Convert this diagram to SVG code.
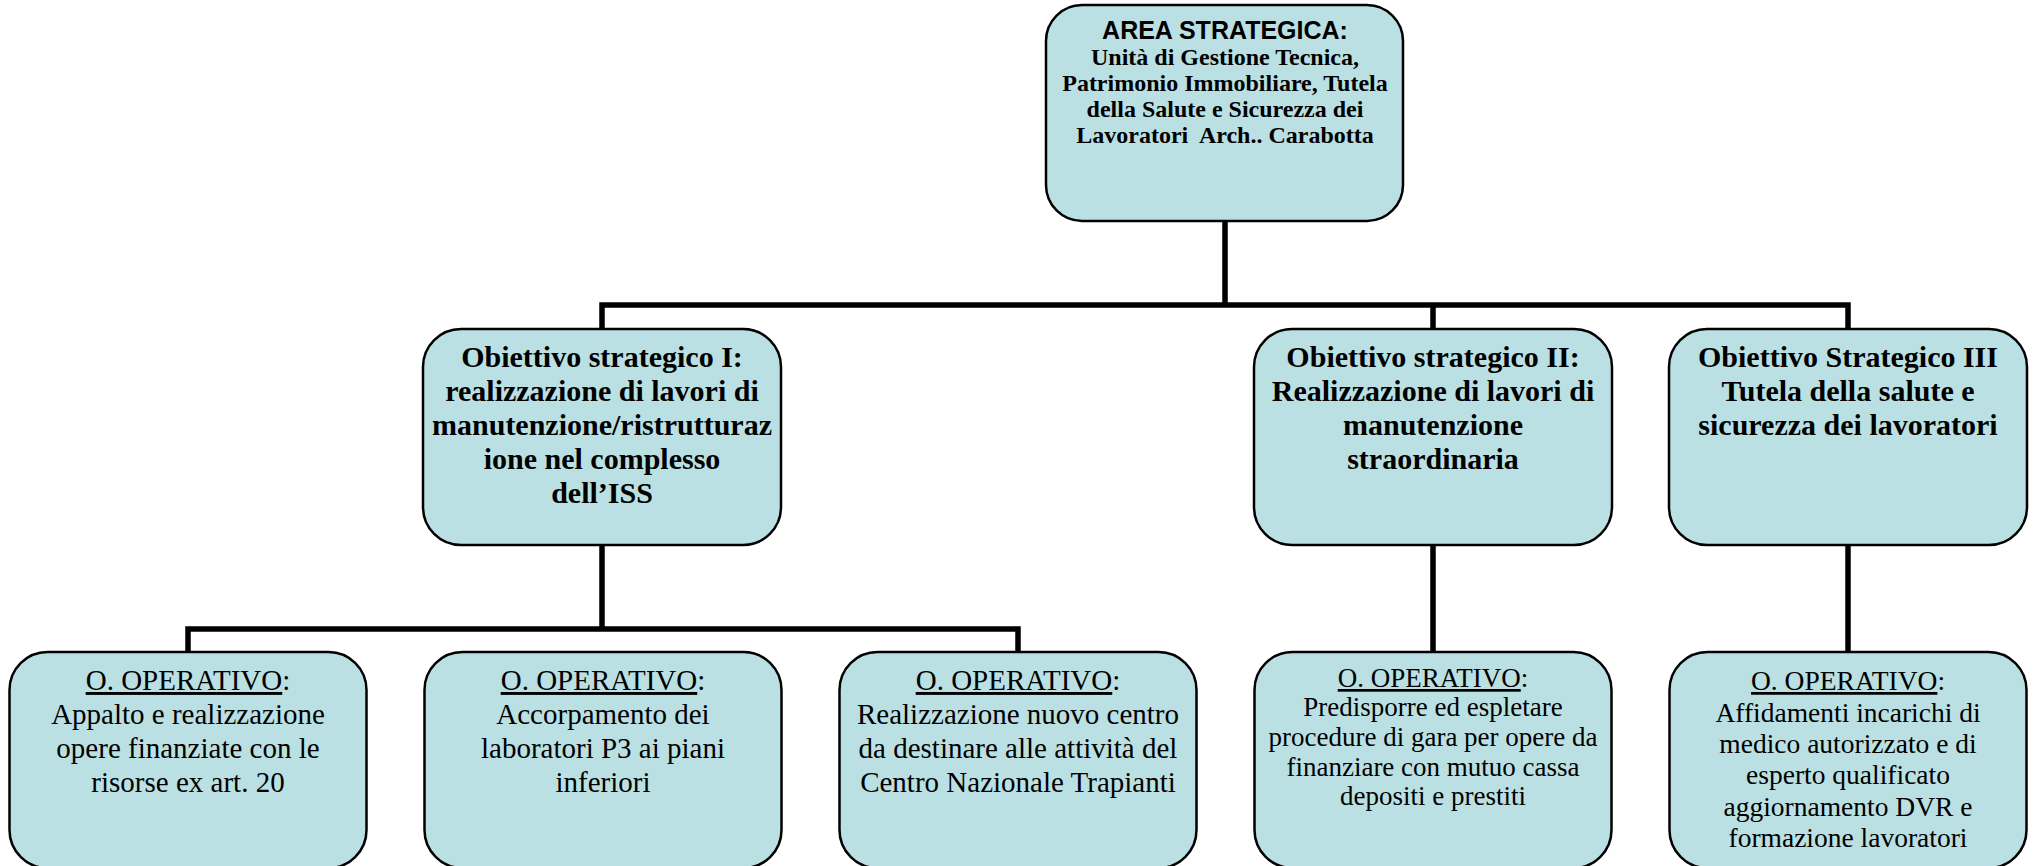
<svg xmlns="http://www.w3.org/2000/svg" width="2033" height="866" viewBox="0 0 2033 866">
<style>
.box{fill:#BBE0E3;stroke:#000;stroke-width:2.5}
.conn{stroke:#000;stroke-width:5.5;fill:none;stroke-linecap:square}
.t{font-family:"Liberation Serif","Times New Roman",serif;fill:#000;text-anchor:middle}
.b{font-weight:bold}
.a{font-family:"Liberation Sans",Arial,sans-serif;font-weight:bold;fill:#000;text-anchor:middle}
.u{text-decoration:underline}
</style>
<rect width="2033" height="866" fill="#fff"/>
<g id="connectors">
<path class="conn" d="M1225 221V305M602 305H1848M602 305V329M1433 305V329M1848 305V329"/>
<path class="conn" d="M602 545V629M188 629H1018M188 629V652M1018 629V652"/>
<path class="conn" d="M1433 545V652M1848 545V652"/>
</g>
<g id="area">
<rect class="box" x="1046" y="5" width="357" height="216" rx="36"/>
<text class="a" x="1225" y="39" font-size="25">AREA STRATEGICA:</text>
<text class="t b" font-size="24"><tspan x="1225" y="65">Unità di Gestione Tecnica,</tspan><tspan x="1225" y="91">Patrimonio Immobiliare, Tutela</tspan><tspan x="1225" y="117">della Salute e Sicurezza dei</tspan><tspan x="1225" y="143" xml:space="preserve">Lavoratori  Arch.. Carabotta</tspan></text>
</g>
<g id="obj1">
<rect class="box" x="423" y="329" width="358" height="216" rx="38"/>
<text class="t b" font-size="30"><tspan x="602" y="367">Obiettivo strategico I:</tspan><tspan x="602" y="401">realizzazione di lavori di</tspan><tspan x="602" y="435">manutenzione/ristrutturaz</tspan><tspan x="602" y="469">ione nel complesso</tspan><tspan x="602" y="503">dell’ISS</tspan></text>
</g>
<g id="obj2">
<rect class="box" x="1254" y="329" width="358" height="216" rx="38"/>
<text class="t b" font-size="30"><tspan x="1433" y="367">Obiettivo strategico II:</tspan><tspan x="1433" y="401">Realizzazione di lavori di</tspan><tspan x="1433" y="435">manutenzione</tspan><tspan x="1433" y="469">straordinaria</tspan></text>
</g>
<g id="obj3">
<rect class="box" x="1669" y="329" width="358" height="216" rx="38"/>
<text class="t b" font-size="30"><tspan x="1848" y="367">Obiettivo Strategico III</tspan><tspan x="1848" y="401">Tutela della salute e</tspan><tspan x="1848" y="435">sicurezza dei lavoratori</tspan></text>
</g>
<g id="op1">
<rect class="box" x="9.5" y="652" width="357" height="216" rx="38"/>
<text class="t" font-size="29"><tspan x="188" y="690"><tspan class="u">O. OPERATIVO</tspan>:</tspan><tspan x="188" y="724">Appalto e realizzazione</tspan><tspan x="188" y="758">opere finanziate con le</tspan><tspan x="188" y="792">risorse ex art. 20</tspan></text>
</g>
<g id="op2">
<rect class="box" x="424.5" y="652" width="357" height="216" rx="38"/>
<text class="t" font-size="29"><tspan x="603" y="690"><tspan class="u">O. OPERATIVO</tspan>:</tspan><tspan x="603" y="724">Accorpamento dei</tspan><tspan x="603" y="758">laboratori P3 ai piani</tspan><tspan x="603" y="792">inferiori</tspan></text>
</g>
<g id="op3">
<rect class="box" x="839.5" y="652" width="357" height="216" rx="38"/>
<text class="t" font-size="29"><tspan x="1018" y="690"><tspan class="u">O. OPERATIVO</tspan>:</tspan><tspan x="1018" y="724">Realizzazione nuovo centro</tspan><tspan x="1018" y="758">da destinare alle attività del</tspan><tspan x="1018" y="792">Centro Nazionale Trapianti</tspan></text>
</g>
<g id="op4">
<rect class="box" x="1254.5" y="652" width="357" height="216" rx="38"/>
<text class="t" font-size="27"><tspan x="1433" y="687"><tspan class="u">O. OPERATIVO</tspan>:</tspan><tspan x="1433" y="716">Predisporre ed espletare</tspan><tspan x="1433" y="746">procedure di gara per opere da</tspan><tspan x="1433" y="776">finanziare con mutuo cassa</tspan><tspan x="1433" y="805">depositi e prestiti</tspan></text>
</g>
<g id="op5">
<rect class="box" x="1669.5" y="652" width="357" height="216" rx="38"/>
<text class="t" font-size="27.5"><tspan x="1848" y="690"><tspan class="u">O. OPERATIVO</tspan>:</tspan><tspan x="1848" y="722">Affidamenti incarichi di</tspan><tspan x="1848" y="753">medico autorizzato e di</tspan><tspan x="1848" y="784">esperto qualificato</tspan><tspan x="1848" y="816">aggiornamento DVR e</tspan><tspan x="1848" y="847">formazione lavoratori</tspan></text>
</g>
</svg>
